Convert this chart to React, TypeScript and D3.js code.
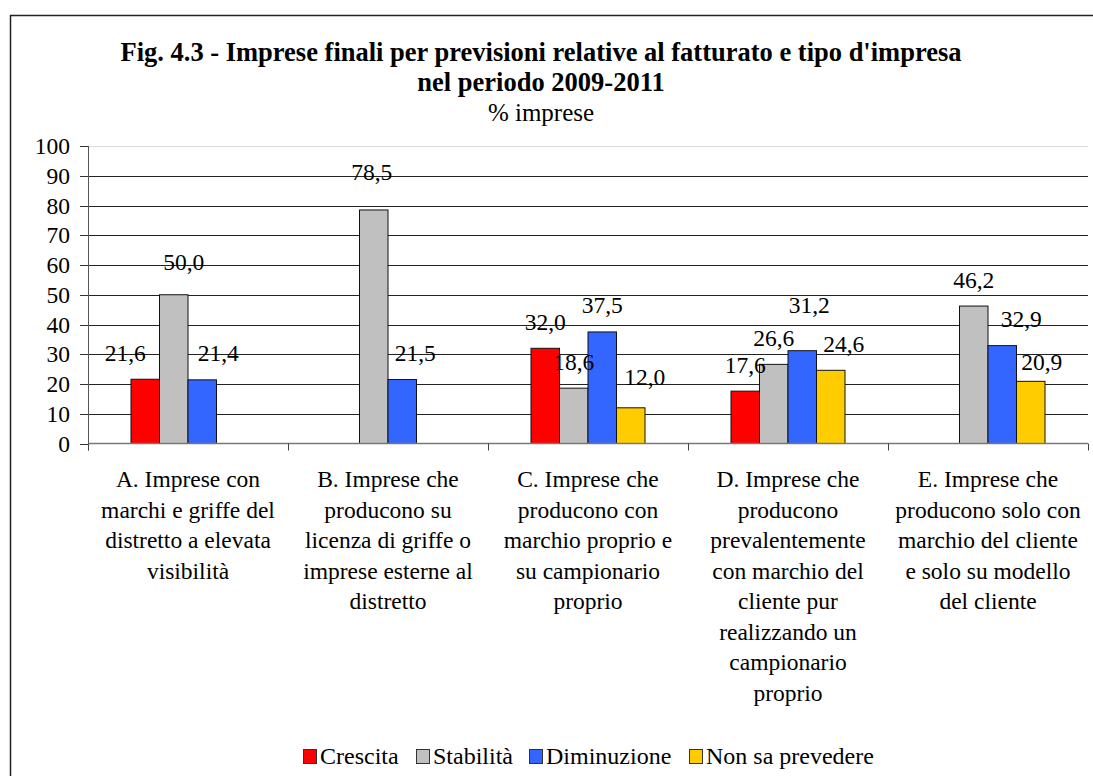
import React from "react";
import * as d3 from "d3";

const categoryLines: string[][] = [
  ["A. Imprese con", "marchi e griffe del", "distretto a elevata", "visibilità"],
  ["B. Imprese che", "producono su", "licenza di griffe o", "imprese esterne al", "distretto"],
  ["C. Imprese che", "producono con", "marchio proprio e", "su campionario", "proprio"],
  ["D. Imprese che", "producono", "prevalentemente", "con marchio del", "cliente pur", "realizzando un", "campionario", "proprio"],
  ["E. Imprese che", "producono solo con", "marchio del cliente", "e solo su modello", "del cliente"],
];
const categoryIds = ["A", "B", "C", "D", "E"];
const seriesNames = ["Crescita", "Stabilità", "Diminuzione", "Non sa prevedere"];
const crescita = [21.6, null, 32.0, 17.6, null];
const stabilita = [50.0, 78.5, 18.6, 26.6, 46.2];
const diminuzione = [21.4, 21.5, 37.5, 31.2, 32.9];
const nonSaPrevedere = [null, null, 12.0, 24.6, 20.9];
const yTicks = [0, 10, 20, 30, 40, 50, 60, 70, 80, 90, 100];
const titleLines = ["Fig. 4.3 - Imprese finali per previsioni relative al fatturato e tipo d'impresa", "nel periodo 2009-2011"];
const subtitle = "% imprese";

const seriesColors = ["#FF0000", "#C0C0C0", "#3366FF", "#FFCC00"];
// manual label nudges (dx, dy) keyed by category-seriesIndex
const labelNudge: Record<string, [number, number]> = {
  "A-0": [-20, 0],
  "A-1": [10, -6],
  "A-2": [16, 0],
  "B-1": [-2, -11],
  "B-2": [13, 0],
  "C-3": [14, -4],
  "D-2": [7, -19],
  "D-3": [13, 0],
  "E-2": [19, 0],
  "E-3": [11, 7],
};

const FONT = '"Liberation Serif"';
const ts = { fontFamily: FONT };

export default function App() {
  const W = 1093, H = 776;
  const left = 88, right = 1088, top = 146, bottom = 443.5;
  const x = d3.scaleBand<string>().domain(categoryIds).range([left, right]).padding(0);
  const inner = d3.scaleBand<string>().domain(seriesNames).range([43, 157]).padding(0);
  const y = d3.scaleLinear().domain([0, 100]).range([bottom, top]);
  const fmt = d3.formatLocale({ decimal: ",", thousands: ".", grouping: [3], currency: ["€", ""] }).format(".1f");
  const allSeries = [crescita, stabilita, diminuzione, nonSaPrevedere];

  const bars: { cat: string; si: number; v: number }[] = [];
  categoryIds.forEach((c, ci) => {
    allSeries.forEach((s, si) => {
      const v = s[ci];
      if (v !== null && v !== undefined) bars.push({ cat: c, si, v });
    });
  });

  const boundaries = categoryIds.map((c) => x(c)!).concat([right]);
  const legendX = [303, 416, 529, 689];

  return (
    <svg width={W} height={H} style={{ position: "absolute", left: 0, top: 0, background: "#fff" }}>
      <rect x={0} y={0} width={W} height={H} fill="#fff" />
      <line x1={10} y1={15.5} x2={W} y2={15.5} stroke="#222" strokeWidth={1.5} />
      <line x1={10.5} y1={15} x2={10.5} y2={H} stroke="#222" strokeWidth={1.5} />

      {titleLines.map((t, i) => (
        <text key={i} x={541} y={61 + i * 30} textAnchor="middle" fontWeight="bold" fontSize={26.5} style={ts}>{t}</text>
      ))}
      <text x={541} y={121} textAnchor="middle" fontSize={25} style={ts}>{subtitle}</text>

      {yTicks.filter((t) => t > 0).map((t) => (
        <line key={t} x1={left} x2={right} y1={Math.round(y(t)) + 0.5} y2={Math.round(y(t)) + 0.5}
          stroke={t === 100 ? "#dcdcdc" : "#222"} strokeWidth={1} />
      ))}
      <line x1={left + 0.5} x2={left + 0.5} y1={top} y2={bottom + 7} stroke="#555" />
      {yTicks.map((t) => (
        <g key={t}>
          <line x1={80} x2={left} y1={Math.round(y(t)) + 0.5} y2={Math.round(y(t)) + 0.5} stroke="#333" />
          <text x={70} y={y(t) + 8} textAnchor="end" fontSize={23.5} style={ts}>{t}</text>
        </g>
      ))}

      {bars.map((b, i) => (
        <rect key={i} x={x(b.cat)! + inner(seriesNames[b.si])!} y={y(b.v)} width={inner.bandwidth()}
          height={bottom - y(b.v)} fill={seriesColors[b.si]} stroke="#111" strokeWidth={1} />
      ))}

      <line x1={left} x2={right} y1={bottom} y2={bottom} stroke="#777" strokeWidth={1.5} />
      {boundaries.map((bx, i) => (
        <line key={i} x1={bx + 0.5} x2={bx + 0.5} y1={bottom} y2={bottom + 7} stroke="#444" />
      ))}

      {bars.map((b, i) => {
        const n = labelNudge[`${b.cat}-${b.si}`] || [0, 0];
        const cx = x(b.cat)! + inner(seriesNames[b.si])! + inner.bandwidth() / 2 + n[0];
        const by = y(b.v) - 18.5 + n[1];
        return (
          <text key={i} x={cx} y={by} textAnchor="middle" fontSize={23.5} style={ts}>{fmt(b.v)}</text>
        );
      })}

      {categoryIds.map((c, ci) => (
        <text key={c} x={x(c)! + x.bandwidth() / 2} y={487} textAnchor="middle" fontSize={23.5} style={ts}>
          {categoryLines[ci].map((ln, li) => (
            <tspan key={li} x={x(c)! + x.bandwidth() / 2} y={487 + li * 30.5}>{ln}</tspan>
          ))}
        </text>
      ))}

      {seriesNames.map((s, i) => (
        <g key={s}>
          <rect x={legendX[i] + 0.5} y={749.5} width={13} height={14} fill={seriesColors[i]} stroke="#333" />
          <text x={legendX[i] + 17} y={764} fontSize={24} style={ts}>{s}</text>
        </g>
      ))}
    </svg>
  );
}
